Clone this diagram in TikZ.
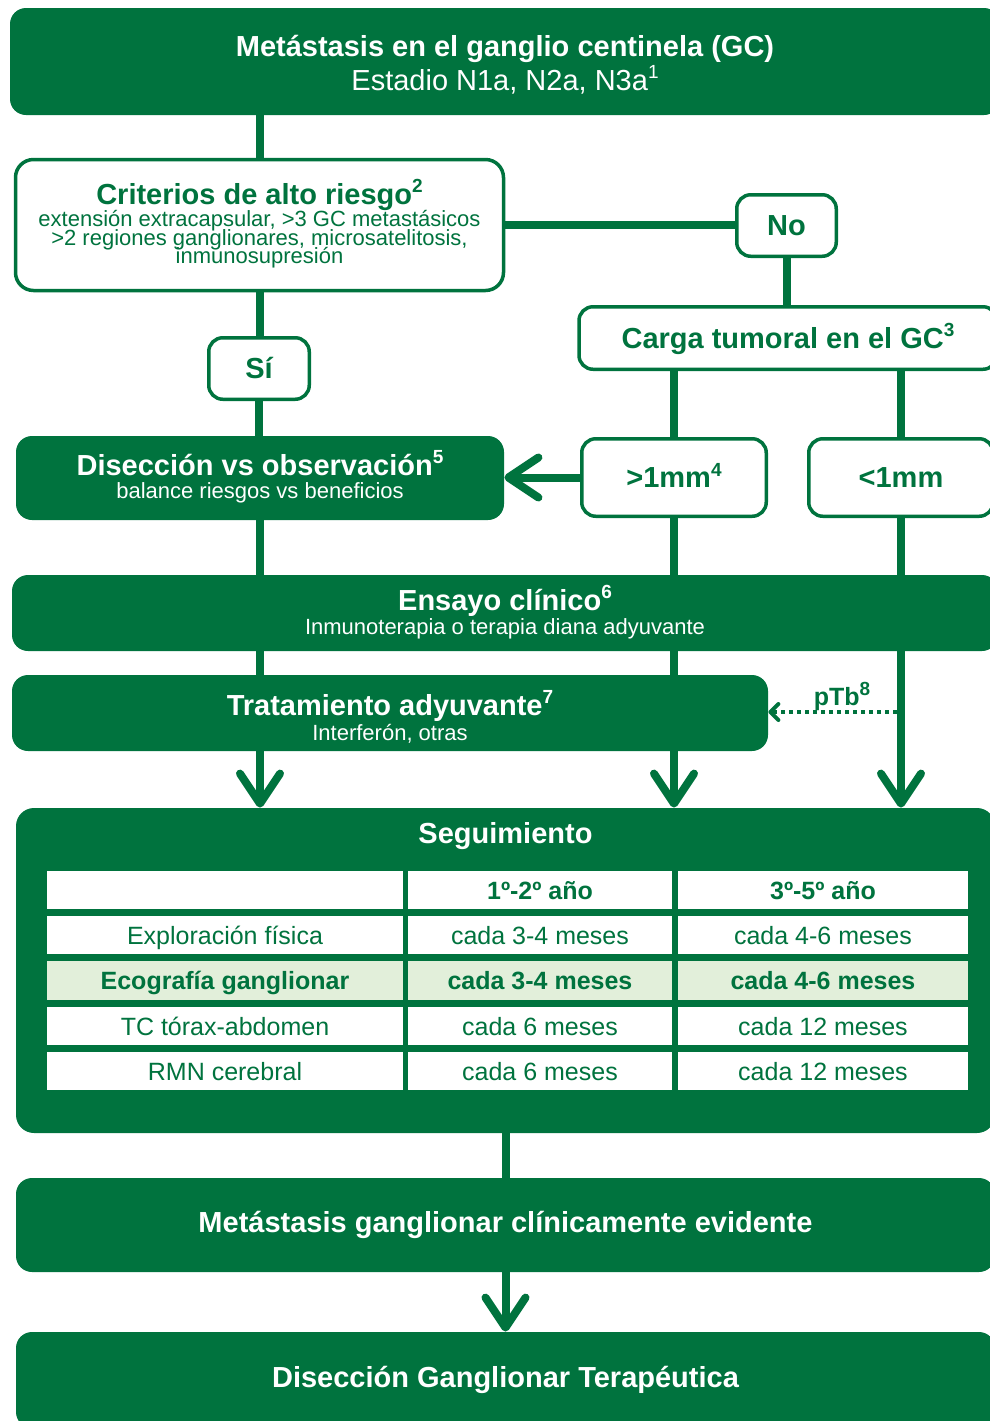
\documentclass[tikz,border=0pt]{standalone}
\usepackage{fontspec}
\setmainfont{Liberation Sans}
\usetikzlibrary{arrows.meta}
\definecolor{G}{RGB}{0,115,62}
\definecolor{LG}{RGB}{226,239,218}
\newcommand\fTitle{\fontsize{14.5}{17}\selectfont\bfseries}
\newcommand\fLarge{\fontsize{14.5}{17}\selectfont}
\newcommand\fSub{\fontsize{11}{13}\selectfont}
\newcommand\fCell{\fontsize{12.5}{15}\selectfont}
\newcommand\sups[1]{\raisebox{0.40em}{\fontsize{9.5}{10}\selectfont #1}}
\tikzset{
  gbox/.style={fill=G, draw=none, rounded corners=8pt, inner sep=0pt, text=white},
  wbox/.style={fill=white, draw=G, line width=1.75pt, rounded corners=7pt, inner sep=0pt, text=G},
  capc/.style={text height=10.4pt, text depth=0pt, font=\fTitle},
  tbase/.style={anchor=base, inner sep=0pt, font=\fTitle},
  sbase/.style={anchor=base, inner sep=0pt, font=\fSub},
  conn/.style={draw=G, line width=4pt},
  arr/.style={conn, -{Straight Barb[length=15pt, width=20pt, round]}},
  dotarr/.style={draw=G, line width=2pt, dash pattern=on 2pt off 2pt, -{Straight Barb[length=4pt, width=8pt, round]}},
  cell/.style={fill=white, inner sep=0pt, minimum height=19.25pt, text=G, font=\fCell, text height=9pt, text depth=0pt},
  hcell/.style={cell, font=\fCell\bfseries},
  ecell/.style={cell, fill=LG, font=\fCell\bfseries},
  c1/.style={minimum width=178pt},
  c2/.style={minimum width=132pt},
  c3/.style={minimum width=145pt},
}
\begin{document}
\begin{tikzpicture}[x=0.5pt, y=-0.5pt]
\useasboundingbox (0,0) rectangle (990,1421);
\clip (0,0) rectangle (990,1421);

% top box
\node[gbox, minimum width=495pt, minimum height=53.5pt] (top) at (505,61.5) {};
\node[tbase, text=white] (top1) at (505,56) {Metástasis en el ganglio centinela (GC)};
\node[anchor=base, inner sep=0pt, font=\fLarge, text=white] (top2) at (505,90.5) {Estadio N1a, N2a, N3a\sups{1}};

% criterios
\node[wbox, rounded corners=9pt, minimum width=244pt, minimum height=65.5pt] (crit) at (259.5,225) {};
\node[tbase, text=G] (crit1) at (259.5,204) {Criterios de alto riesgo\sups{2}};
\node[sbase, text=G] (crit2) at (259.5,226) {extensión extracapsular, >3 GC metastásicos};
\node[sbase, text=G] (crit3) at (259.5,245) {>2 regiones ganglionares, microsatelitosis,};
\node[sbase, text=G] (crit4) at (259.5,263.5) {inmunosupresión};

% no / si
\node[wbox, capc, minimum width=49.75pt, minimum height=30.75pt] (no) at (786.5,225.5) {No};
\node[wbox, capc, minimum width=50.25pt, minimum height=30.75pt] (si) at (259,368.5) {Sí};

% carga
\node[wbox, capc, minimum width=209pt, minimum height=31.25pt] (carga) at (788,338) {Carga tumoral en el GC\sups{3}};

% >1mm, <1mm
\node[wbox, capc, minimum width=92.25pt, minimum height=38.75pt] (gt) at (674,477.5) {>1mm\sups{4}};
\node[wbox, capc, minimum width=92.25pt, minimum height=38.75pt] (lt) at (901,477.5) {<1mm};

% diseccion
\node[gbox, minimum width=244pt, minimum height=42pt] (dis) at (260,478) {};
\node[tbase, text=white] (dis1) at (260,475) {Disección vs observación\sups{5}};
\node[sbase, text=white] (dis2) at (260,498.5) {balance riesgos vs beneficios};

% ensayo
\node[gbox, minimum width=493pt, minimum height=38pt] (ens) at (505,613) {};
\node[tbase, text=white] (ens1) at (505,610) {Ensayo clínico\sups{6}};
\node[sbase, text=white] (ens2) at (505,634) {Inmunoterapia o terapia diana adyuvante};

% tratamiento
\node[gbox, minimum width=378pt, minimum height=38pt] (trat) at (390,713) {};
\node[tbase, text=white] (trat1) at (390,715) {Tratamiento adyuvante\sups{7}};
\node[sbase, text=white] (trat2) at (390,740) {Interferón, otras};

% seguimiento
\node[gbox, rounded corners=9pt, minimum width=489.5pt, minimum height=162.5pt] (seg) at (505.5,970.5) {};
\node[tbase, text=white] (segt) at (505.5,843) {Seguimiento};

\node[hcell, c1] (h0) at (225,890) {};
\node[hcell, c2] (h1) at (540,890) {1º-2º año};
\node[hcell, c3] (h2) at (823,890) {3º-5º año};

\node[cell, c1] (r1a) at (225,935) {Exploración física};
\node[cell, c2] (r1b) at (540,935) {cada 3-4 meses};
\node[cell, c3] (r1c) at (823,935) {cada 4-6 meses};

\node[ecell, c1] (r2a) at (225,980.5) {Ecografía ganglionar};
\node[ecell, c2] (r2b) at (540,980.5) {cada 3-4 meses};
\node[ecell, c3] (r2c) at (823,980.5) {cada 4-6 meses};

\node[cell, c1] (r3a) at (225,1026) {TC tórax-abdomen};
\node[cell, c2] (r3b) at (540,1026) {cada 6 meses};
\node[cell, c3] (r3c) at (823,1026) {cada 12 meses};

\node[cell, c1] (r4a) at (225,1071) {RMN cerebral};
\node[cell, c2] (r4b) at (540,1071) {cada 6 meses};
\node[cell, c3] (r4c) at (823,1071) {cada 12 meses};

% bottom boxes
\node[gbox, capc, text depth=3pt, minimum width=489.5pt, minimum height=47pt] (met) at (505.5,1225) {Metástasis ganglionar clínicamente evidente};
\node[gbox, capc, text depth=3pt, minimum width=489.5pt, minimum height=48pt] (dgt) at (505.5,1380) {Disección Ganglionar Terapéutica};

% connectors
\draw[conn] (top.south -| crit.north) -- (crit.north);
\draw[conn] (crit.east) -- (crit.east -| no.west);
\draw[conn] (no.south) -- (no.south |- carga.north);
\draw[conn] (crit.south) -- (crit.south |- si.north);
\draw[conn] (si.south) -- (si.south |- dis.north);
\draw[conn] (carga.south -| gt.north) -- (gt.north);
\draw[conn] (carga.south -| lt.north) -- (lt.north);
\draw[arr] (gt.west) -- (gt.west -| dis.east);
\draw[conn] (dis.south) -- (dis.south |- ens.north);
\draw[conn] (gt.south) -- (gt.south |- ens.north);
\draw[conn] (lt.south) -- (lt.south |- ens.north);
\draw[conn] (ens.south -| dis.south) -- (dis.south |- trat.north);
\draw[conn] (ens.south -| gt.south) -- (gt.south |- trat.north);
\draw[arr] (trat.south -| dis.south) -- (dis.south |- seg.north);
\draw[arr] (trat.south -| gt.south) -- (gt.south |- seg.north);
\draw[arr] (ens.south -| lt.south) -- (lt.south |- seg.north);
\coordinate (ptbs) at (897,712);
\draw[dotarr] (ptbs) -- (ptbs -| trat.east);
\node[anchor=base, inner sep=0pt, text=G, font=\fontsize{12.5}{14}\selectfont\bfseries] (ptb) at (842,705) {pTb\sups{8}};
\draw[conn] (seg.south) -- (seg.south |- met.north);
\draw[arr] (met.south) -- (dgt.north);
\end{tikzpicture}
\end{document}
